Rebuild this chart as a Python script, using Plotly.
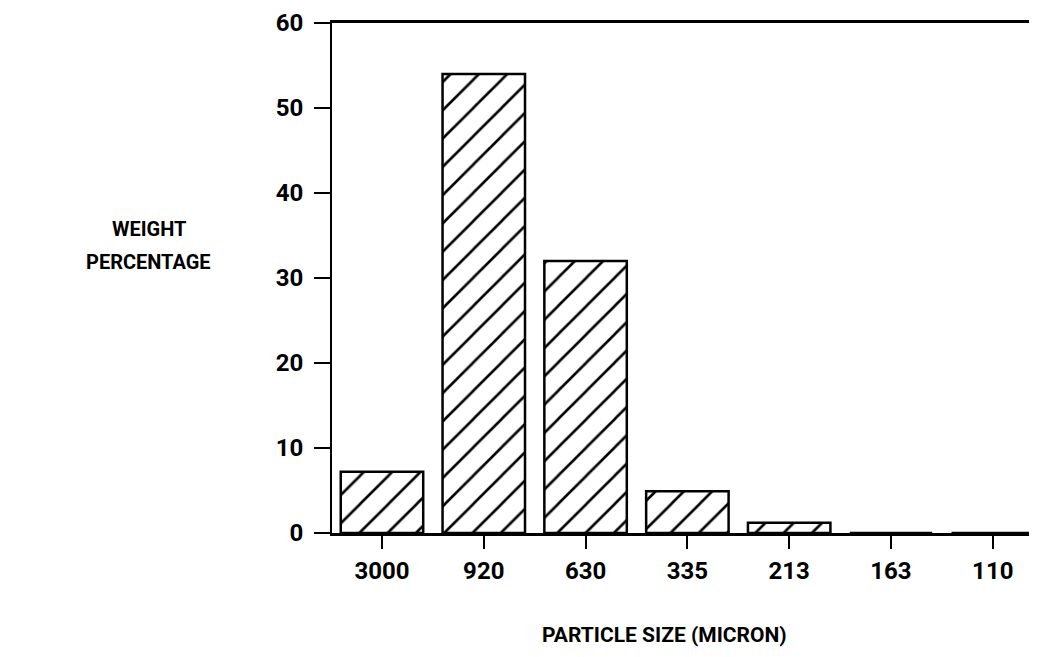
import plotly.graph_objects as go

categories = ["3000", "920", "630", "335", "213", "163", "110"]
weight_pct = [7.2, 54.0, 32.0, 4.9, 1.2, 0.0, 0.0]
y_ticks = [0, 10, 20, 30, 40, 50, 60]

FONT = "Roboto, DejaVu Sans, sans-serif"

xpos = list(range(len(categories)))

fig = go.Figure()
fig.add_trace(go.Bar(
    x=xpos,
    y=weight_pct,
    width=0.81,
    marker=dict(
        color="white",
        line=dict(color="black", width=2.5),
        pattern=dict(shape="/", fgcolor="black", bgcolor="white", size=20,
                     solidity=0.13, fgopacity=1),
    ),
    showlegend=False,
))

fig.update_layout(
    width=1037,
    height=657,
    margin=dict(l=324, r=0, t=15, b=132),
    paper_bgcolor="white",
    plot_bgcolor="white",
    font=dict(family=FONT, size=22, color="black", weight="bold"),
    xaxis=dict(
        range=[-0.491, 6.513],
        tickmode="array",
        tickvals=xpos,
        ticktext=categories,
        showline=True,
        linecolor="black",
        linewidth=3,
        mirror=True,
        ticks="outside",
        ticklen=13,
        tickwidth=2,
        tickcolor="black",
        ticklabelstandoff=1,
        showgrid=False,
        zeroline=False,
        tickfont=dict(family=FONT, size=24, weight="bold"),
    ),
    yaxis=dict(
        range=[0, 60],
        tickmode="array",
        tickvals=y_ticks,
        showline=True,
        linecolor="black",
        linewidth=2,
        ticks="outside",
        ticklen=16,
        tickwidth=2,
        tickcolor="black",
        ticklabelstandoff=6,
        showgrid=False,
        zeroline=False,
        tickfont=dict(family=FONT, size=24, weight="bold"),
    ),
    annotations=[
        dict(text="WEIGHT", xref="paper", yref="paper",
             x=-0.257, y=0.596, xanchor="center", yanchor="middle", showarrow=False,
             font=dict(family=FONT, size=20, weight="bold")),
        dict(text="PERCENTAGE", xref="paper", yref="paper",
             x=-0.258, y=0.531, xanchor="center", yanchor="middle", showarrow=False,
             font=dict(family=FONT, size=20, weight="bold")),
        dict(text="PARTICLE SIZE (MICRON)", xref="paper", yref="paper",
             x=0.466, y=-0.2, xanchor="center", yanchor="middle", showarrow=False,
             font=dict(family=FONT, size=21, weight="bold")),
    ],
)

fig.write_html("out.html")
